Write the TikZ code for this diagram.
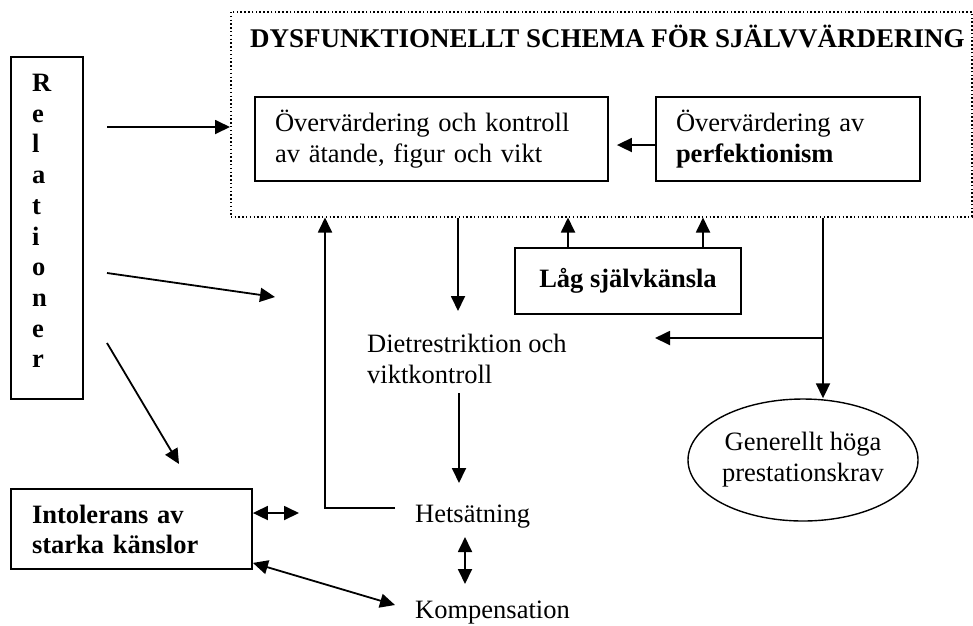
\documentclass[tikz,border=0pt]{standalone}
\usepackage{fontspec}
\setmainfont{Liberation Serif}
\usetikzlibrary{arrows.meta,shapes.geometric}
\begin{document}
\begin{tikzpicture}[x=1pt,y=-1pt,
  every node/.style={font=\fontsize{26.5}{31}\selectfont, inner sep=0pt},
  box/.style={draw, line width=1.8pt},
  arr/.style={-{Triangle[length=15pt,width=14pt]}, line width=1.8pt},
  darr/.style={{Triangle[length=15pt,width=14pt]}-{Triangle[length=15pt,width=14pt]}, line width=1.8pt}]
\useasboundingbox (0,0) rectangle (973,625);

% dotted schema frame
\node[draw, line width=1.5pt, dash pattern=on 1.5pt off 2.3pt, minimum width=741pt, minimum height=205pt, anchor=north west] (schema) at (230,11) {};
\node[font=\fontsize{27}{31}\selectfont\bfseries, anchor=base west] (title) at (250,47) {DYSFUNKTIONELLT SCHEMA FÖR SJÄLVVÄRDERING};

% inner boxes
\node[box, text width=313pt, inner xsep=20pt, minimum height=84pt, align=left] (eat) at (431.5,139) {Övervärdering och kontroll\\av ätande, figur och vikt};
\node[box, text width=224pt, inner xsep=20pt, minimum height=84pt, align=left] (perf) at (788,139) {Övervärdering av\\\textbf{perfektionism}};

% Relationer
\node[box, minimum width=72pt, minimum height=342pt] (rel) at (47,228) {};
\node[font=\fontsize{26.5}{30.7}\selectfont\bfseries, align=left, anchor=north west] (reltext) at (32,74) {R\\e\\l\\a\\t\\i\\o\\n\\e\\r};

% Låg självkänsla
\node[box, minimum width=226pt, minimum height=66pt, font=\fontsize{26.5}{31}\selectfont\bfseries] (lag) at (628,281) {Låg självkänsla};

% Intolerans
\node[box, text width=199pt, inner xsep=21pt, minimum height=80pt, align=left, font=\fontsize{26.5}{30}\selectfont\bfseries] (intol) at (131.5,529) {Intolerans av\\starka känslor};

% plain texts
\node[align=left, anchor=north west] (diet) at (367,334) {Dietrestriktion och\\viktkontroll};
\node[anchor=base west] (het) at (415,522) {Hetsätning};
\node[anchor=base west] (komp) at (415,618) {Kompensation};

% ellipse
\node[draw, ellipse, line width=1.4pt, minimum width=230pt, minimum height=122pt, align=center] (gen) at (803,460) {Generellt höga\\prestationskrav};

% coordinates for free ends
\coordinate (r1s) at (107,127);
\coordinate (r2s) at (107,273);
\coordinate (r2e) at (275,297);
\coordinate (r3s) at (107,343);
\coordinate (r3e) at (179,464);
\coordinate (d1) at (458,311);
\coordinate (d2s) at (459,393);
\coordinate (d2e) at (459,483);
\coordinate (hk1) at (465,537);
\coordinate (hk2) at (465,584);
\coordinate (hl) at (395,508);
\coordinate (ih) at (299,513);
\coordinate (ik) at (395,605);
\coordinate (br) at (823,338);
\coordinate (bre) at (655,338);

% connectors
\draw[arr] (r1s) -- (schema.west |- r1s);
\draw[arr] (r2s) -- (r2e);
\draw[arr] (r3s) -- (r3e);
\draw[arr] ([yshift=-6pt]perf.west) -- ([xshift=8pt,yshift=-6pt]eat.east);
\draw[arr] (schema.south -| d1) -- (d1);
\draw[arr] (d2s) -- (d2e);
\draw[darr] (hk1) -- (hk2);
\draw[arr] (hl) -| (schema.south -| 325,0);
\draw[darr] (intol.east |- ih) -- (ih);
\draw[darr] ([yshift=7pt]intol.south east) -- (ik);
\draw[arr] (lag.north -| 568,0) -- (schema.south -| 568,0);
\draw[arr] (lag.north -| 703,0) -- (schema.south -| 703,0);
\draw[arr] (schema.south -| br) -- (gen.north -| br);
\draw[arr] (br) -- (bre);
\end{tikzpicture}
\end{document}
